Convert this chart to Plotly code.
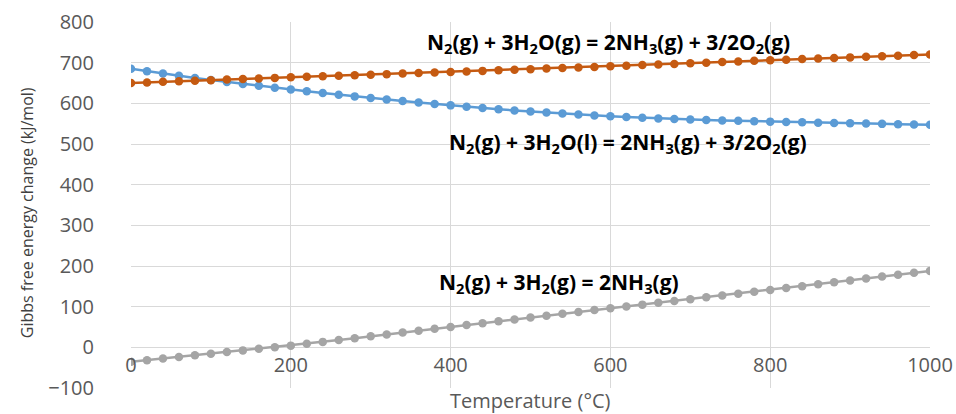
import plotly.graph_objects as go

temperature = [i * 20 for i in range(51)]

dg_water_gas = [650, 651.4, 652.8, 654.2, 655.6, 657, 658.4, 659.8, 661.2, 662.6,
                664, 665.3, 666.6, 667.9, 669.2, 670.5, 671.8, 673.1, 674.4, 675.7,
                677, 678.4, 679.8, 681.2, 682.6, 684, 685.4, 686.8, 688.2, 689.6,
                691, 692.5, 694, 695.5, 697, 698.5, 700, 701.5, 703, 704.5,
                706, 707.4, 708.8, 710.2, 711.6, 713, 714.4, 715.8, 717.2, 718.6, 720]

dg_water_liq = [685, 679, 673.3, 667.8, 662.5, 657.4, 652.5, 647.7, 643.1, 638.5,
                634, 629.6, 625.3, 621.1, 617.1, 613.2, 609.4, 605.7, 602.1, 598.5,
                595, 591.7, 588.5, 585.5, 582.6, 579.9, 577.3, 574.8, 572.4, 570.1,
                568, 566.2, 564.5, 562.9, 561.5, 560.2, 559, 557.9, 556.9, 555.9,
                555, 554.1, 553.25, 552.45, 551.65, 550.9, 550.2, 549.5, 548.8, 548.15, 547.5]

dg_hydrogen = [-35.5, -31.5, -27.5, -23.5, -19.5, -15.5, -11.5, -7.5, -3.5, 0.3,
               4.2, 8.8, 13.4, 18, 22.6, 27.2, 31.8, 36.4, 41, 45.6,
               50.2, 54.8, 59.4, 64, 68.6, 73.2, 77.8, 82.4, 87, 91.6,
               96, 100.5, 105, 109.5, 114, 118.5, 123, 127.5, 132, 136.5,
               141, 145.7, 150.4, 155.1, 159.8, 164.5, 169.2, 173.9, 178.6, 183.3, 188]

label_water_gas = "N<sub>2</sub>(g) + 3H<sub>2</sub>O(g) = 2NH<sub>3</sub>(g) + 3/2O<sub>2</sub>(g)"
label_water_liq = "N<sub>2</sub>(g) + 3H<sub>2</sub>O(l) = 2NH<sub>3</sub>(g) + 3/2O<sub>2</sub>(g)"
label_hydrogen = "N<sub>2</sub>(g) + 3H<sub>2</sub>(g) = 2NH<sub>3</sub>(g)"

x_title = "Temperature (°C)"
y_title = "Gibbs free energy change (kJ/mol)"

series = [
    (dg_water_liq, "#5B9BD5", label_water_liq),
    (dg_water_gas, "#C55A11", label_water_gas),
    (dg_hydrogen, "#A5A5A5", label_hydrogen),
]

fig = go.Figure()
for vals, color, name in series:
    fig.add_trace(go.Scatter(
        x=temperature, y=vals, mode="lines+markers", name=name,
        line=dict(color=color, width=2.5),
        marker=dict(color=color, size=8.5, symbol="circle"),
        showlegend=False,
    ))

label_font = dict(family="Open Sans, sans-serif", size=21, color="#000000")
for x, y, text in [(597, 749, label_water_gas), (622, 502, label_water_liq), (536, 157, label_hydrogen)]:
    fig.add_annotation(x=x, y=y, xref="x", yref="y", text="<b>" + text + "</b>",
                       showarrow=False, font=label_font, xanchor="center", yanchor="middle")

fig.add_annotation(x=0.5, y=-0.033, xref="paper", yref="paper", text=x_title, showarrow=False,
                   font=dict(family="Open Sans, sans-serif", size=20, color="#595959"),
                   xanchor="center", yanchor="middle")
fig.add_annotation(x=-0.13, y=0.478, xref="paper", yref="paper", text=y_title, showarrow=False,
                   textangle=-90,
                   font=dict(family="Open Sans, sans-serif", size=16, color="#404040"),
                   xanchor="center", yanchor="middle")

fig.update_layout(
    width=956, height=414,
    margin=dict(l=131, r=26, t=22, b=26),
    paper_bgcolor="white", plot_bgcolor="white",
    xaxis=dict(range=[0, 1000], dtick=200, tick0=0, showgrid=True, gridcolor="#d9d9d9",
               gridwidth=1, zeroline=False, showline=False, anchor="free",
               position=100 / 900, ticks="", ticklabelstandoff=4, automargin=False,
               tickfont=dict(family="Open Sans, sans-serif", size=20, color="#595959")),
    yaxis=dict(range=[-100, 800], dtick=100, tick0=-100, showgrid=True, gridcolor="#d9d9d9",
               gridwidth=1, zeroline=False, showline=False, ticks="", automargin=False,
               ticklabelstandoff=36,
               tickfont=dict(family="Open Sans, sans-serif", size=20, color="#595959")),
)

fig.write_html("out.html")
